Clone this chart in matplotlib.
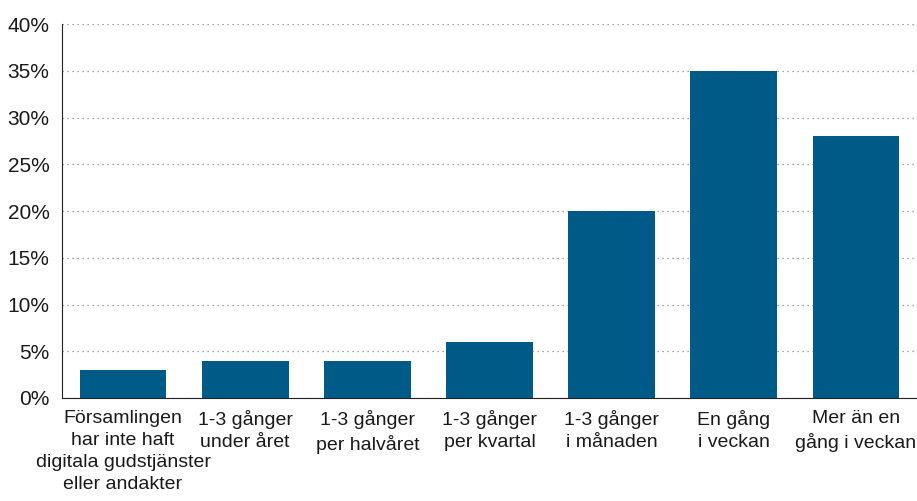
import matplotlib

matplotlib.use("Agg")
import matplotlib.pyplot as plt
from matplotlib.ticker import PercentFormatter

categories = [
    "Församlingen\nhar inte haft\ndigitala gudstjänster\neller andakter",
    "1-3 gånger\nunder året",
    "1-3 gånger\nper halvåret",
    "1-3 gånger\nper kvartal",
    "1-3 gånger\ni månaden",
    "En gång\ni veckan",
    "Mer än en\ngång i veckan",
]
values = [3, 4, 4, 6, 20, 35, 28]
yticks = [0, 5, 10, 15, 20, 25, 30, 35, 40]

plt.rcParams["font.family"] = ["Liberation Sans", "DejaVu Sans"]

fig = plt.figure(figsize=(9.17, 5.01), dpi=100)
ax = fig.add_axes([0.0676, 0.2056, 0.9324, 0.7464])

x = range(len(categories))
ax.bar(x, values, width=0.71, color="#005a87", zorder=3)

ax.set_xlim(-0.5, len(categories) - 0.5)
ax.set_ylim(0, 40)
ax.set_yticks(yticks)
ax.yaxis.set_major_formatter(PercentFormatter(decimals=0))
ax.set_xticks(list(x))
ax.set_xticklabels(categories, fontsize=14, color="#1a1a1a", linespacing=1.38)
ax.tick_params(axis="y", labelsize=15, labelcolor="#1a1a1a", length=0, pad=9)
ax.tick_params(axis="x", length=0, pad=9)

ax.grid(axis="y", linestyle=(0, (1, 3)), color="#888888", linewidth=0.9, zorder=0)
for s in ["top", "right"]:
    ax.spines[s].set_visible(False)
ax.spines["left"].set_color("#222222")
ax.spines["bottom"].set_color("#222222")

fig.savefig("out.png", dpi=100)
